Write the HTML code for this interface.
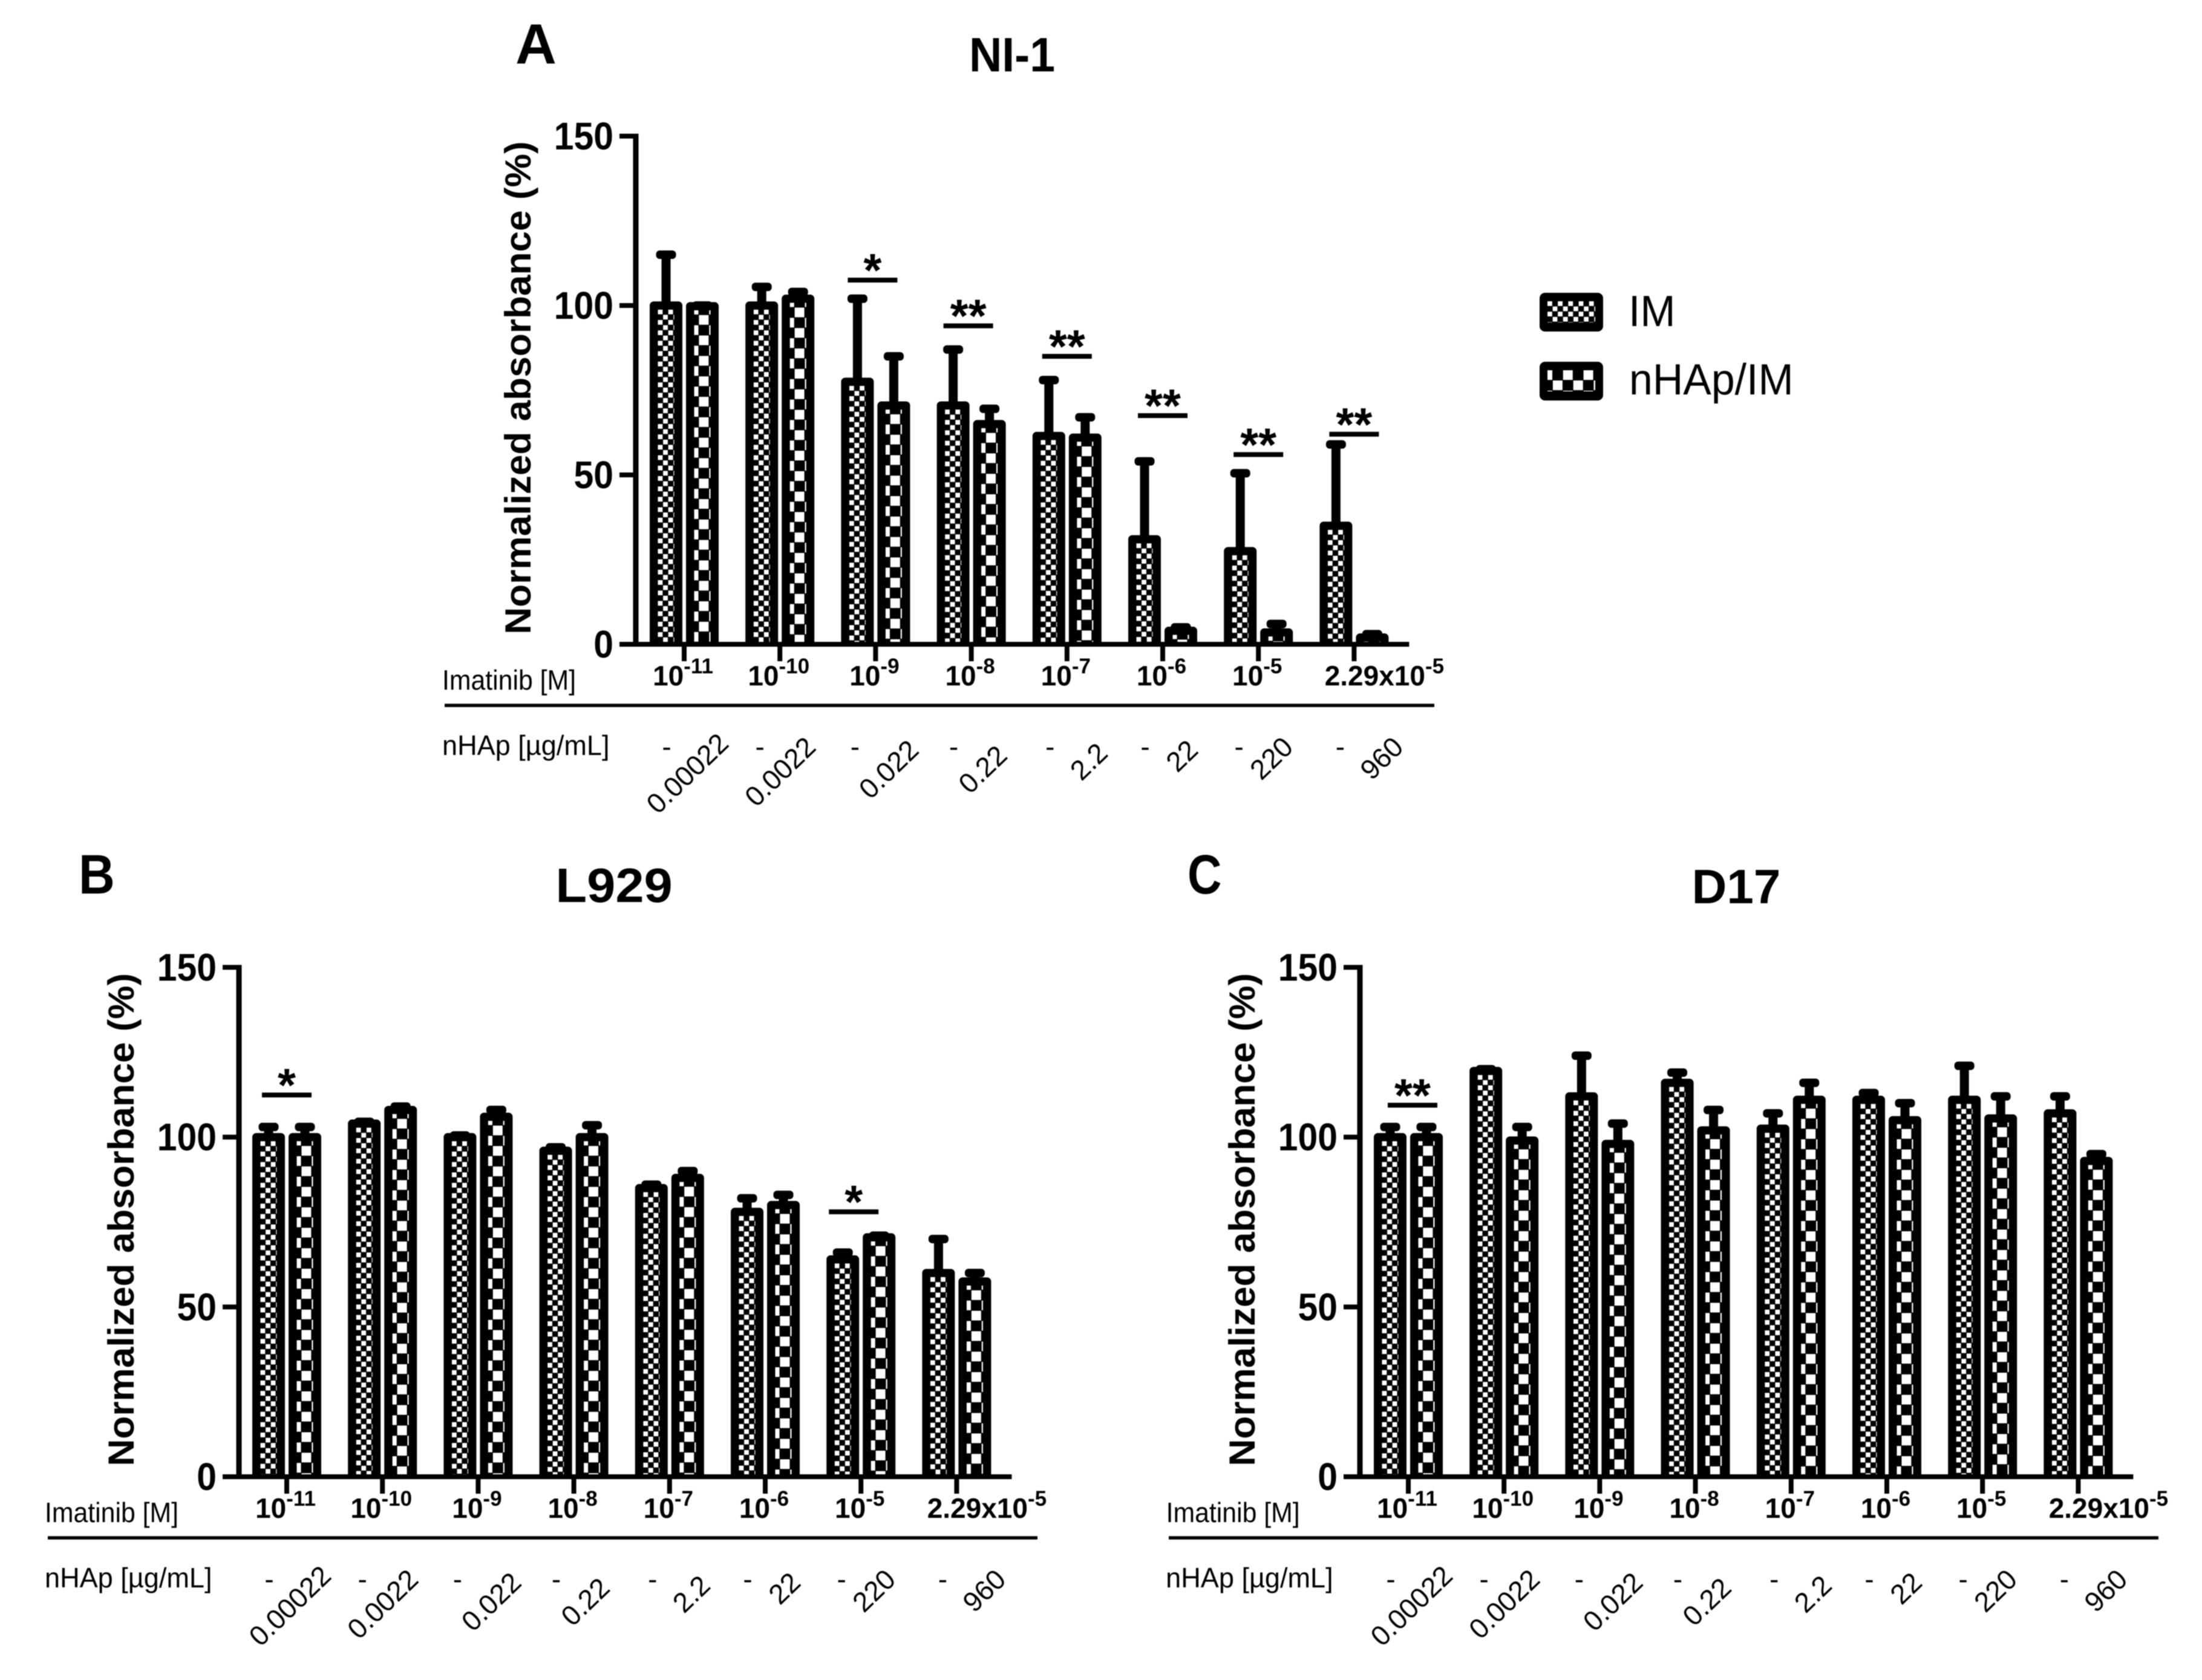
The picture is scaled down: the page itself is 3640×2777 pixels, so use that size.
<!DOCTYPE html>
<html lang="en">
<head>
<meta charset="utf-8">
<title>Normalized absorbance of NI-1, L929 and D17 cells</title>
<style>
html,body{margin:0;padding:0;background:#fff;width:3640px;height:2777px;overflow:hidden}
svg{display:block;filter:blur(0.7px)}
text{font-family:"Liberation Sans",sans-serif;fill:#000}
.b{font-weight:700}
</style>
</head>
<body>
<svg id="figure" xmlns="http://www.w3.org/2000/svg" width="3640" height="2777" viewBox="0 0 3640 2777">
  <rect width="3640" height="2777" fill="#fff"/>
  <defs id="defs"></defs>

  <text class="b" font-size="94" transform="translate(852,105)">A</text>
  <text class="b" font-size="92" transform="translate(130,1477) scale(.9,1)">B</text>
  <text class="b" font-size="92" transform="translate(1963,1477) scale(.85,1)">C</text>

  <text class="b" font-size="80" text-anchor="middle" transform="translate(1673,118) scale(.94,1)">NI-1</text>
  <text class="b" font-size="80" text-anchor="middle" transform="translate(1015,1491) scale(1.06,1)">L929</text>
  <text class="b" font-size="80" text-anchor="middle" transform="translate(2870,1493)">D17</text>

  <text class="b" font-size="60" text-anchor="middle" textLength="815" lengthAdjust="spacingAndGlyphs" transform="translate(877,641) rotate(-90)">Normalized absorbance (%)</text>
  <text class="b" font-size="60" text-anchor="middle" textLength="815" lengthAdjust="spacingAndGlyphs" transform="translate(221,2016) rotate(-90)">Normalized absorbance (%)</text>
  <text class="b" font-size="60" text-anchor="middle" textLength="815" lengthAdjust="spacingAndGlyphs" transform="translate(2074,2016) rotate(-90)">Normalized absorbance (%)</text>

  <text font-size="46" transform="translate(731,1140) scale(.93,1)">Imatinib [M]</text>
  <text font-size="46" transform="translate(731,1248) scale(.98,1)">nHAp [µg/mL]</text>
  <text font-size="46" transform="translate(74,2516) scale(.93,1)">Imatinib [M]</text>
  <text font-size="46" transform="translate(74,2624) scale(.98,1)">nHAp [µg/mL]</text>
  <text font-size="46" transform="translate(1936,2516) scale(.93,1) translate(-9,0)">Imatinib [M]</text>
  <text font-size="46" transform="translate(1936,2624) scale(.98,1) translate(-9,0)">nHAp [µg/mL]</text>

  <g>
    <rect x="2545" y="484" width="105" height="64" rx="9" fill="#000"/>
    <rect id="legend-inner-im" x="2558" y="498" width="79" height="35"/>
    <text font-size="72" transform="translate(2692,539) scale(.97,1)">IM</text>
    <rect x="2545" y="598" width="105" height="64" rx="9" fill="#000"/>
    <rect id="legend-inner-nhap" x="2558" y="612" width="79" height="35"/>
    <text font-size="72" transform="translate(2693,652) scale(.97,1)">nHAp/IM</text>
  </g>
  <g id="charts"></g>
</svg>
<script>
// Shared category labels
const imatinibBase = ['10','10','10','10','10','10','10','2.29x10'];
const imatinibExp = ['-11','-10','-9','-8','-7','-6','-5','-5'];
const nhapDoses = ['0.00022','0.0022','0.022','0.22','2.2','22','220','960'];
const yTickValues = [0,50,100,150];
const yTickLabels = ['0','50','100','150'];

// NI-1 series
const ni1ImMeans = [100,100,77.5,70.5,61.5,31,27.5,35];
const ni1ImErrTops = [115,105.5,102,87,78,54,50.5,59];
const ni1NhapMeans = [99.8,102,70.5,65,61,4,3.5,2];
const ni1NhapErrTops = [100,104,85,69.5,67,5,6,3];
const ni1SigGroups = [2,3,4,5,6,7];
const ni1SigHeights = [107.5,94,85,67.5,56,62];
const ni1SigMarks = ['*','**','**','**','**','**'];

// L929 series
const l929ImMeans = [100,104,100,96,85,78,64,60];
const l929ImErrTops = [103,104.5,100.5,97,86,82,66,70];
const l929NhapMeans = [100,108,106,100,88,80,70.5,57.5];
const l929NhapErrTops = [103,109,108,103.5,90,83,71,60];
const l929SigGroups = [0,6];
const l929SigHeights = [112.4,78];
const l929SigMarks = ['*','*'];

// D17 series
const d17ImMeans = [100,119.5,112,116,102.5,111,111,107];
const d17ImErrTops = [103,120,124,119,107,113,121,112];
const d17NhapMeans = [100,99,98,102,111,105,105.5,93];
const d17NhapErrTops = [103,103,104,108,116,110,112,95];
const d17SigGroups = [0];
const d17SigHeights = [109.4];
const d17SigMarks = ['**'];

const NS = 'http://www.w3.org/2000/svg';
const defs = document.getElementById('defs');
const root = document.getElementById('charts');

function make(tag, attrs, parent) {
  const node = document.createElementNS(NS, tag);
  for (const k in attrs) node.setAttribute(k, attrs[k]);
  if (parent) parent.appendChild(node);
  return node;
}

function addPattern(id, px, py, kind) {
  const cell = kind === 'im' ? 8.6 : 16.9;
  const white = kind === 'im' ? 7.8 : 16;
  const p = make('pattern', {id: id, patternUnits: 'userSpaceOnUse', x: px, y: py, width: cell * 2, height: cell * 2}, defs);
  make('rect', {x: 0, y: 0, width: cell * 2, height: cell * 2, fill: '#000'}, p);
  make('rect', {x: 0, y: 0, width: white, height: white, fill: '#fff'}, p);
  make('rect', {x: cell, y: cell, width: white, height: white, fill: '#fff'}, p);
}

// Layout of the dashed and rotated dose labels relative to each category tick
const dashShift = [-29,-33,-34,-29,-28,-29,-32,-23];
const doseShiftX = [76,62,74,62,70,61,60,84];
const doseShiftY = [0,6,11,20,16,11,6,6];
const groupStep = 158.2;
const barOffset = 30;
const barWidth = 40.5;
const barStroke = 13.5;

function drawChart(cfg) {
  const g = make('g', {}, root);
  
  

  const yScale = v => cfg.baseY - v * (cfg.baseY - cfg.topY) / 150;
  const xScale = i => cfg.firstTick + i * groupStep;

  function drawBar(i, value, errTop, side, kind) {
    const cx = xScale(i) + side * barOffset;
    const yv = yScale(value);
    const yErr = yScale(errTop);

    const stem = make('line', {x1: cx, x2: cx, y1: yv, y2: yErr, stroke: '#000', 'stroke-width': 15}, g);
    
    

    const cap = make('rect', {x: cx - 16.5, y: yErr - 7, width: 33, height: 14, rx: 6, fill: '#000'}, g);
    
    

    const pid = 'pat-' + cfg.name + '-' + kind + '-' + i;
    const innerLeft = cx - 13.5;
    if (kind === 'im') addPattern(pid, innerLeft, yv + 6.75, 'im');
    else addPattern(pid, innerLeft - 9, yv - 2.25, 'nhap');

    const left = cx - barWidth / 2;
    const right = cx + barWidth / 2;
    const bar = make('path', {
      d: 'M' + left + ' ' + cfg.baseY + 'L' + left + ' ' + yv + 'L' + right + ' ' + yv + 'L' + right + ' ' + cfg.baseY,
      fill: 'url(#' + pid + ')', stroke: '#000', 'stroke-width': barStroke, 'stroke-linejoin': 'round'
    }, g);
    
    
  }

  cfg.imMeans.forEach((v, i) => drawBar(i, v, cfg.imErr[i], -1, 'im'));
  cfg.nhapMeans.forEach((v, i) => drawBar(i, v, cfg.nhapErr[i], 1, 'nhap'));

  // y axis
  const yAxis = make('line', {x1: cfg.axisX, x2: cfg.axisX, y1: cfg.topY - 4, y2: cfg.baseY + 4, stroke: '#000', 'stroke-width': 9}, g);
  
  

  yTickValues.forEach((v, i) => {
    const ty = yScale(v);
    const tick = make('line', {x1: cfg.axisX - 27, x2: cfg.axisX, y1: ty, y2: ty, stroke: '#000', 'stroke-width': 8}, g);
    
    
    const lab = make('text', {class: 'b', 'font-size': 64, 'text-anchor': 'end', transform: 'translate(' + (cfg.axisX - 37) + ',' + (ty + 22) + ') scale(.92,1)'}, g);
    lab.textContent = yTickLabels[i];
    
    
  });

  // x axis
  const xAxis = make('line', {x1: cfg.axisX - 27, x2: xScale(7) + 91, y1: cfg.baseY, y2: cfg.baseY, stroke: '#000', 'stroke-width': 8}, g);
  
  

  imatinibBase.forEach((base, i) => {
    const tx = xScale(i);
    const tick = make('line', {x1: tx, x2: tx, y1: cfg.baseY, y2: cfg.baseY + 28, stroke: '#000', 'stroke-width': 8}, g);
    
    

    const labelX = tx + (base.length > 2 ? 50 : -2);
    const lab = make('text', {class: 'b', 'font-size': 46, 'text-anchor': 'middle', x: labelX, y: cfg.baseY + 68}, g);
    
    
    const t1 = make('tspan', {}, lab);
    t1.textContent = base;
    const t2 = make('tspan', {'font-size': 35, dy: -20}, lab);
    t2.textContent = imatinibExp[i];

    const dash = make('text', {'font-size': 46, 'text-anchor': 'middle', x: tx + dashShift[i], y: cfg.ruleY + 84}, g);
    dash.textContent = '-';
    
    

    const dose = make('text', {'font-size': 46, 'text-anchor': 'end',
      transform: 'translate(' + (tx + doseShiftX[i]) + ',' + (cfg.ruleY + 66 + doseShiftY[i]) + ') rotate(-44)'}, g);
    dose.textContent = nhapDoses[i];
    
    
  });

  // divider rule between the label rows
  const rule = make('line', {x1: cfg.axisX - 316, x2: cfg.axisX + 1320, y1: cfg.ruleY, y2: cfg.ruleY, stroke: '#000', 'stroke-width': 5.5}, g);
  
  

  // significance markers
  cfg.sigGroups.forEach((grp, i) => {
    const sx = xScale(grp) + cfg.sigNudge[i];
    const sy = yScale(cfg.sigHeights[i]);
    const line = make('line', {x1: sx - 41, x2: sx + 41, y1: sy, y2: sy, stroke: '#000', 'stroke-width': 8}, g);
    
    
    const star = make('text', {class: 'b', 'font-size': 77, 'text-anchor': 'middle', x: sx, y: sy + 10}, g);
    star.textContent = cfg.sigMarks[i];
    
    
  });
}

drawChart({name: 'ni1', axisX: 1051, firstTick: 1131, topY: 225, baseY: 1065, ruleY: 1166,
  imMeans: ni1ImMeans, imErr: ni1ImErrTops, nhapMeans: ni1NhapMeans, nhapErr: ni1NhapErrTops,
  sigGroups: ni1SigGroups, sigHeights: ni1SigHeights, sigMarks: ni1SigMarks, sigNudge: [-5,-5,0,0,0,0]});
drawChart({name: 'l929', axisX: 395, firstTick: 474, topY: 1599, baseY: 2441, ruleY: 2542,
  imMeans: l929ImMeans, imErr: l929ImErrTops, nhapMeans: l929NhapMeans, nhapErr: l929NhapErrTops,
  sigGroups: l929SigGroups, sigHeights: l929SigHeights, sigMarks: l929SigMarks, sigNudge: [0,-12]});
drawChart({name: 'd17', axisX: 2248, firstTick: 2328, topY: 1599, baseY: 2441, ruleY: 2542,
  imMeans: d17ImMeans, imErr: d17ImErrTops, nhapMeans: d17NhapMeans, nhapErr: d17NhapErrTops,
  sigGroups: d17SigGroups, sigHeights: d17SigHeights, sigMarks: d17SigMarks, sigNudge: [7]});

addPattern('legend-pat-im', 2558, 498, 'im');
addPattern('legend-pat-nhap', 2550, 612, 'nhap');
document.getElementById('legend-inner-im').setAttribute('fill', 'url(#legend-pat-im)');
document.getElementById('legend-inner-nhap').setAttribute('fill', 'url(#legend-pat-nhap)');
</script>
</body>
</html>
